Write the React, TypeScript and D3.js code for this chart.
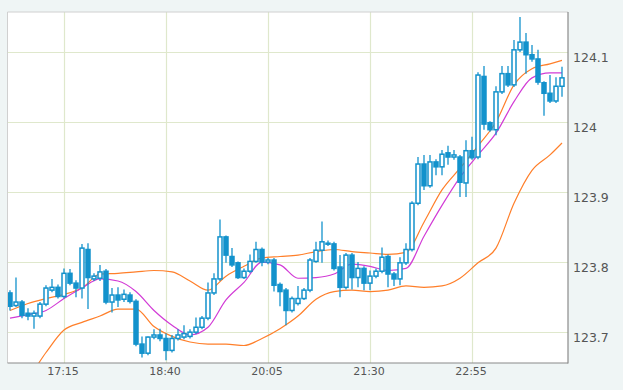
import React from 'react';
import * as d3 from 'd3';

// 5 minute candles starting 16:30
const startTime = '16:30';
const stepMinutes = 5;

const opens = [
  123.756, 123.738, 123.743, 123.727, 123.723, 123.723, 123.740, 123.760, 123.764, 123.751,
  123.784, 123.770, 123.763, 123.818, 123.776, 123.777, 123.787, 123.743, 123.753, 123.747,
  123.753, 123.744, 123.683, 123.670, 123.693, 123.696, 123.691, 123.674, 123.691, 123.693,
  123.694, 123.700, 123.707, 123.720, 123.756, 123.776, 123.836, 123.808, 123.799, 123.778,
  123.787, 123.801, 123.818, 123.800, 123.803, 123.768, 123.760, 123.731, 123.741, 123.748,
  123.760, 123.801, 123.817, 123.826, 123.826, 123.793, 123.764, 123.810, 123.778, 123.791,
  123.770, 123.780, 123.787, 123.808, 123.783, 123.776, 123.799, 123.818, 123.884, 123.940,
  123.909, 123.943, 123.936, 123.956, 123.950, 123.950, 123.913, 123.959, 123.950, 124.065,
  123.999, 123.989, 124.043, 124.069, 124.053, 124.103, 124.114, 124.096, 124.090, 124.056,
  124.041, 124.030, 124.051,
];
const highs = [
  123.760, 123.778, 123.746, 123.734, 123.731, 123.743, 123.767, 123.776, 123.768, 123.791,
  123.790, 123.774, 123.826, 123.827, 123.784, 123.796, 123.790, 123.763, 123.764, 123.761,
  123.757, 123.747, 123.694, 123.694, 123.704, 123.705, 123.698, 123.696, 123.704, 123.710,
  123.704, 123.721, 123.723, 123.771, 123.784, 123.861, 123.838, 123.820, 123.801, 123.791,
  123.811, 123.829, 123.821, 123.806, 123.806, 123.771, 123.763, 123.751, 123.766, 123.763,
  123.806, 123.829, 123.858, 123.831, 123.829, 123.810, 123.813, 123.813, 123.800, 123.794,
  123.788, 123.791, 123.821, 123.811, 123.786, 123.807, 123.827, 123.887, 123.950, 123.953,
  123.953, 123.947, 123.960, 123.966, 123.960, 123.953, 123.974, 123.979, 124.071, 124.080,
  124.001, 124.051, 124.080, 124.080, 124.117, 124.150, 124.127, 124.110, 124.103, 124.058,
  124.067, 124.064, 124.079,
];
const lows = [
  123.731, 123.736, 123.720, 123.717, 123.705, 123.720, 123.737, 123.757, 123.748, 123.748,
  123.767, 123.750, 123.748, 123.733, 123.773, 123.773, 123.740, 123.728, 123.736, 123.743,
  123.741, 123.680, 123.664, 123.667, 123.690, 123.687, 123.660, 123.671, 123.688, 123.690,
  123.691, 123.697, 123.704, 123.717, 123.753, 123.773, 123.799, 123.793, 123.776, 123.776,
  123.784, 123.799, 123.794, 123.797, 123.758, 123.737, 123.710, 123.728, 123.738, 123.746,
  123.757, 123.799, 123.799, 123.823, 123.788, 123.750, 123.761, 123.761, 123.764, 123.760,
  123.760, 123.777, 123.784, 123.764, 123.766, 123.767, 123.796, 123.815, 123.881, 123.903,
  123.906, 123.924, 123.924, 123.939, 123.946, 123.893, 123.893, 123.946, 123.947, 123.989,
  123.986, 123.981, 124.040, 124.050, 124.050, 124.100, 124.069, 124.086, 124.053, 124.009,
  124.027, 124.027, 124.036,
];
const closes = [
  123.737, 123.743, 123.724, 123.723, 123.727, 123.740, 123.763, 123.764, 123.751, 123.784,
  123.770, 123.763, 123.820, 123.778, 123.780, 123.786, 123.743, 123.753, 123.746, 123.754,
  123.744, 123.683, 123.670, 123.693, 123.696, 123.691, 123.674, 123.691, 123.696, 123.698,
  123.700, 123.707, 123.720, 123.756, 123.776, 123.836, 123.810, 123.796, 123.778, 123.787,
  123.801, 123.818, 123.800, 123.803, 123.767, 123.758, 123.731, 123.748, 123.748, 123.760,
  123.803, 123.817, 123.829, 123.827, 123.791, 123.764, 123.810, 123.778, 123.791, 123.770,
  123.780, 123.787, 123.807, 123.783, 123.776, 123.799, 123.818, 123.884, 123.940, 123.909,
  123.943, 123.936, 123.954, 123.950, 123.953, 123.914, 123.959, 123.949, 124.067, 123.997,
  123.989, 124.043, 124.069, 124.053, 124.103, 124.114, 124.096, 124.090, 124.057, 124.041,
  124.030, 124.051, 124.063,
];

// bollinger band readings (candle index -> value)
const bandIndex = [0, 3, 6, 9, 12, 15, 18, 21, 24, 27, 30, 33, 36, 39, 42, 45, 48, 51, 54, 57, 60, 63, 66, 69, 72, 75, 78, 81, 84, 87, 90, 92];
const upperBand = [
  123.731, 123.741, 123.748, 123.754, 123.763, 123.783, 123.784, 123.786, 123.788, 123.786,
  123.773, 123.760, 123.780, 123.794, 123.806, 123.808, 123.810, 123.815, 123.818, 123.815,
  123.813, 123.811, 123.814, 123.857, 123.903, 123.934, 123.966, 124.000, 124.053, 124.076,
  124.083, 124.088,
];
const middleBand = [
  123.720, 123.725, 123.731, 123.748, 123.763, 123.776, 123.773, 123.758, 123.731, 123.710,
  123.696, 123.707, 123.746, 123.771, 123.800, 123.796, 123.777, 123.778, 123.783, 123.797,
  123.794, 123.788, 123.791, 123.837, 123.881, 123.921, 123.953, 123.984, 124.029, 124.063,
  124.070, 124.070,
];
const lowerBand = [
  123.610, 123.634, 123.671, 123.703, 123.714, 123.723, 123.733, 123.733, 123.708, 123.694,
  123.686, 123.683, 123.683, 123.681, 123.691, 123.705, 123.723, 123.747, 123.758, 123.760,
  123.758, 123.760, 123.766, 123.764, 123.766, 123.777, 123.799, 123.820, 123.884, 123.931,
  123.953, 123.970,
];

const timeTicks = ['17:15', '18:40', '20:05', '21:30', '22:55'];
const priceTicks = ['123.7', '123.8', '123.9', '124', '124.1'];

const W = 623;
const H = 390;
const plot = { left: 7.5, right: 568, top: 12, bottom: 363 };
const blue = '#1392cc';
const orange = '#ff7f2a';
const magenta = '#d23cd6';

const toMin = (s: string) => {
  const [h, m] = s.split(':').map(Number);
  return h * 60 + m;
};

const App = () => {
  const t0 = toMin(startTime);
  const x = d3.scaleLinear().domain([-2.08, 465]).range([plot.left, plot.right]);
  const xi = (i: number) => x(i * stepMinutes);
  const y = d3.scaleLinear().domain([123.656, 124.157]).range([plot.bottom, plot.top]);

  const bandLine = (vals: number[]) =>
    d3
      .line<number>()
      .x((_, k) => xi(bandIndex[k]))
      .y(d => y(d))
      .curve(d3.curveMonotoneX)(vals) || '';

  return (
    <div style={{ position: 'absolute', left: 0, top: 0 }}>
      <svg width={W} height={H} style={{ display: 'block' }}>
        <defs>
          <clipPath id="plotClip">
            <rect x={plot.left} y={plot.top} width={plot.right - plot.left} height={plot.bottom - plot.top} />
          </clipPath>
        </defs>
        <rect width={W} height={H} fill="#eff5f5" />
        <rect x={plot.left} y={plot.top} width={plot.right - plot.left} height={plot.bottom - plot.top} fill="#fff" />

        {/* grid */}
        {priceTicks.map(t => {
          const yy = Math.round(y(+t)) + 0.5;
          return <line key={t} x1={plot.left} x2={plot.right} y1={yy} y2={yy} stroke="#dfe8cc" strokeWidth={1.2} />;
        })}
        {timeTicks.map(t => {
          const xx = Math.round(x(toMin(t) - t0)) + 0.5;
          return <line key={t} x1={xx} x2={xx} y1={plot.top} y2={plot.bottom} stroke="#dfe8cc" strokeWidth={1.2} />;
        })}

        <g clipPath="url(#plotClip)">
          <path d={bandLine(upperBand)} fill="none" stroke={orange} strokeWidth={1.2} />
          <path d={bandLine(lowerBand)} fill="none" stroke={orange} strokeWidth={1.2} />
          <path d={bandLine(middleBand)} fill="none" stroke={magenta} strokeWidth={1.2} />

          {opens.map((o, i) => {
            const c = closes[i];
            const cx = xi(i);
            const up = c > o;
            const top = y(Math.max(o, c));
            const bot = y(Math.min(o, c));
            return (
              <g key={i}>
                <line x1={cx} x2={cx} y1={y(highs[i])} y2={y(lows[i])} stroke={blue} strokeWidth={1.3} />
                <rect
                  x={cx - 2}
                  y={top}
                  width={4}
                  height={Math.max(bot - top, 1)}
                  fill={up ? '#fff' : blue}
                  stroke={blue}
                  strokeWidth={1.5}
                />
              </g>
            );
          })}
        </g>

        {/* frame */}
        <line x1={plot.left} x2={plot.left} y1={plot.top} y2={plot.bottom} stroke="#d0d0d0" />
        <line x1={plot.left} x2={plot.right} y1={plot.top} y2={plot.top} stroke="#d0d0d0" />
        <line x1={plot.right} x2={plot.right} y1={plot.top} y2={plot.bottom + 0.5} stroke="#8a8a8a" strokeWidth={1.2} />
        <line x1={plot.left} x2={plot.right} y1={plot.bottom} y2={plot.bottom} stroke="#8a8a8a" strokeWidth={1.2} />

        {priceTicks.map(t => (
          <text key={t} x={573} y={Math.round(y(+t)) + 10} fontFamily="DejaVu Sans, Verdana, sans-serif" fontSize={12.5} fill="#555">
            {t}
          </text>
        ))}
        {timeTicks.map(t => (
          <text
            key={t}
            x={x(toMin(t) - t0) - 1}
            y={375}
            textAnchor="middle"
            fontFamily="DejaVu Sans, Verdana, sans-serif"
            fontSize={11}
            fill="#555"
          >
            {t}
          </text>
        ))}
      </svg>
    </div>
  );
};

export default App;
